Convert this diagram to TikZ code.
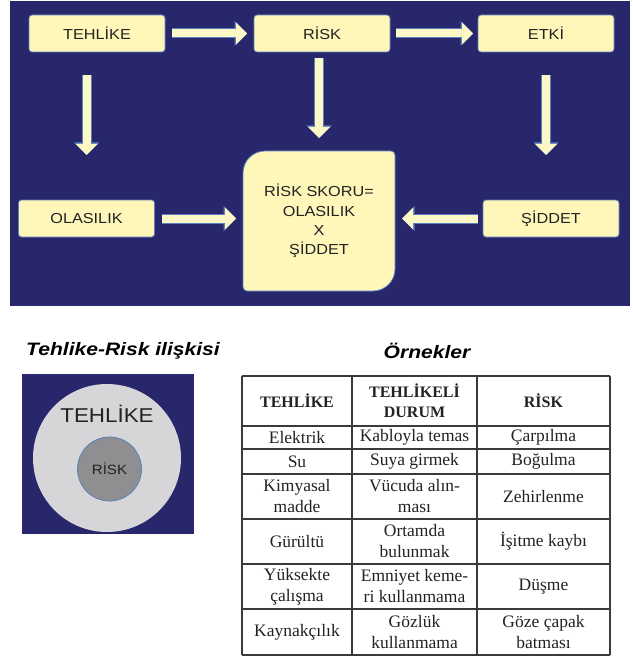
\documentclass[tikz,border=0pt]{standalone}
\usepackage{fontspec}
\setmainfont{Liberation Serif}
\newfontfamily\diyfont[FakeStretch=1.12]{Liberation Sans}
\newfontfamily\baslikfont[FakeStretch=1.17]{Liberation Sans}
\usepackage{xcolor}
\definecolor{cNavy}{HTML}{29276C}
\definecolor{cBox}{HTML}{FFF6B9}
\definecolor{cArrow}{HTML}{FCF8C6}
\definecolor{cEdge}{HTML}{5A80C0}
\definecolor{cInk}{HTML}{222222}
\definecolor{cRing}{HTML}{D6D6D8}
\definecolor{cCore}{HTML}{8F8F92}
\definecolor{cRule}{HTML}{3A3A3A}
\usetikzlibrary{positioning,arrows.meta,backgrounds}
\tikzset{
  node-box/.style={fill=cBox,draw=cEdge,line width=0.8pt,rounded corners=3pt,
    minimum width=136pt,minimum height=37pt,inner sep=0pt,outer sep=0pt,
    text=cInk,font=\diyfont\fontsize{14.5}{17}\selectfont},
  node-score/.style={minimum width=152pt,minimum height=140pt,inner sep=0pt,
    outer sep=0pt,align=center,text=cInk,
    font=\diyfont\fontsize{14.5}{19.3}\selectfont},
  % kalin sari ok, ince mavi kenarli
  arrow-block/.style={draw=cArrow,line width=8pt,
    -{Triangle[width=22pt,length=11pt,line width=0pt]},
    preaction={draw=cEdge,line width=10pt,
      -{Triangle[width=25pt,length=12.5pt,line width=0pt]}}},
  cell/.style={align=center,inner sep=0pt,text=cInk,
    font=\fontsize{17.5}{21}\selectfont},
  cell-head/.style={cell,font=\bfseries\fontsize{16}{20}\selectfont},
  title/.style={font=\baslikfont\bfseries\itshape\fontsize{18}{22}\selectfont},
  rule/.style={draw=cRule,line width=1.1pt},
}
\begin{document}
\begin{tikzpicture}[x=1pt,y=-1pt]
  \useasboundingbox (0,0) rectangle (632,671);
  \begin{scope}[on background layer]
    \fill[cNavy] (10,1) rectangle (630,306);
  \end{scope}

  % ust sira
  \node[node-box] (tehlike) at (97,33.5) {TEHLİKE};
  \node[node-box,right=89pt of tehlike] (risk) {RİSK};
  \node[node-box,right=88pt of risk] (etki) {ETKİ};
  % alt sira
  \node[node-box] (olasilik) at (86.5,218.5) {OLASILIK};
  \node[node-score] (skor) at (319,221) {RİSK SKORU=\\OLASILIK\\X\\ŞİDDET};
  \node[node-box] (siddet) at (551,218.5) {ŞİDDET};
  \begin{scope}[on background layer]
    \draw[fill=cBox,draw=cEdge,line width=0.8pt] (skor.west)
      [rounded corners=22pt] -- (skor.north west)
      [rounded corners=4pt] -- (skor.north east)
      [rounded corners=22pt] -- (skor.south east)
      [rounded corners=4pt] -- (skor.south west) -- cycle;
  \end{scope}

  \draw[arrow-block,shorten <=7pt,shorten >=7pt] (tehlike) -- (risk);
  \draw[arrow-block,shorten <=6pt,shorten >=5pt] (risk) -- (etki);
  \draw[arrow-block,shorten <=23pt,shorten >=45pt]
    (tehlike.south -| olasilik) -- (olasilik);
  \draw[arrow-block,shorten <=6pt,shorten >=13pt] (risk.south -| skor) -- (skor);
  \draw[arrow-block,shorten <=23pt,shorten >=45pt]
    (etki) -- (etki.south |- siddet.north);
  \draw[arrow-block,shorten <=7pt,shorten >=7pt] (olasilik) -- (olasilik -| skor.west);
  \draw[arrow-block,shorten <=5pt,shorten >=7pt] (siddet) -- (siddet -| skor.east);

  % tehlike-risk iliskisi
  \node[title] (iliski) at (123,351) {Tehlike-Risk ilişkisi};
  \fill[cNavy] (22,374) rectangle (194,534);
  \node[circle,fill=cRing,minimum size=148pt,inner sep=0pt] (halka) at (107,458) {};
  \node[circle,fill=cCore,draw=cEdge,line width=0.8pt,minimum size=64pt,
    inner sep=0pt,text=cInk,font=\diyfont\fontsize{13.5}{15}\selectfont]
    (cekirdek) at (109.5,469) {RİSK};
  \node[text=cInk,font=\diyfont\fontsize{20}{24}\selectfont] (halka-yazi)
    at (107,414) {TEHLİKE};

  % ornekler tablosu
  \node[title] (ornek) at (427,351) {Örnekler};
  \foreach \y in {376,426,449,474,519,564,609,655}
    \draw[rule] (242,\y) -- (610,\y);
  \foreach \x in {242,352,477,610}
    \draw[rule] (\x,376) -- (\x,655);
  \node[cell-head] (bas-1) at (297,401) {TEHLİKE};
  \node[cell-head] (bas-2) at (414.5,401) {TEHLİKELİ\\DURUM};
  \node[cell-head] (bas-3) at (543.5,401) {RİSK};
  \foreach [count=\i] \a/\b/\c/\y in {Elektrik/Kabloyla temas/Çarpılma/437.5,
      Su/Suya girmek/Boğulma/461.5,
      {Kimyasal\\madde}/{Vücuda alın-\\ması}/Zehirlenme/496.5,
      Gürültü/{Ortamda\\bulunmak}/İşitme kaybı/541.5,
      {Yüksekte\\çalışma}/{Emniyet keme-\\ri kullanmama}/Düşme/586.5,
      Kaynakçılık/{Gözlük\\kullanmama}/{Göze çapak\\batması}/632}{
    \node[cell] (tehlike-\i) at (297,\y) {\a};
    \node[cell] (durum-\i) at (414.5,\y) {\b};
    \node[cell] (risk-\i) at (543.5,\y) {\c};
  }
\end{tikzpicture}
\end{document}
